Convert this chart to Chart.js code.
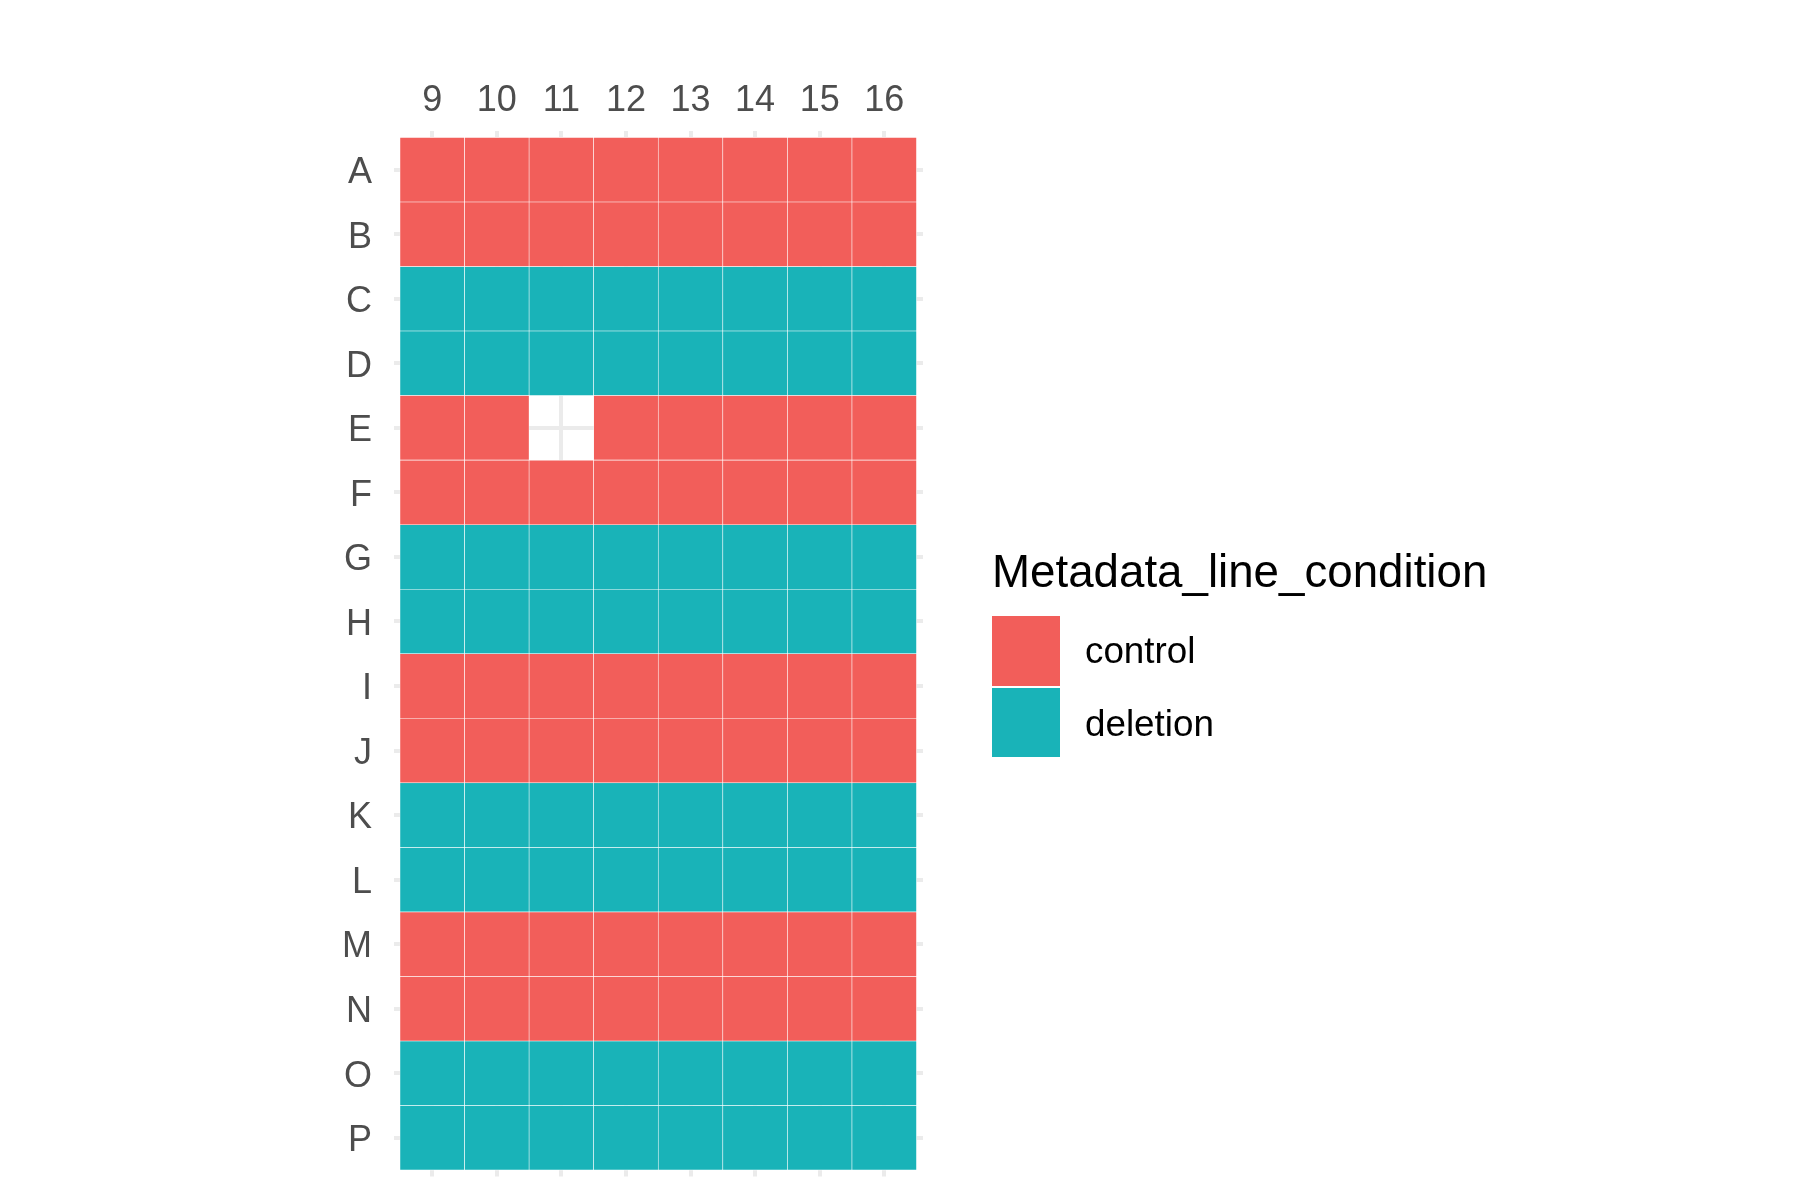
<!DOCTYPE html>
<html>
<head>
<meta charset="utf-8">
<script src="https://cdn.jsdelivr.net/npm/chart.js@4/dist/chart.umd.min.js"></script>
<style>
  html, body { margin: 0; padding: 0; background: #ffffff; }
  #wrap { position: relative; width: 1800px; height: 1200px; overflow: hidden; }
  #c { position: absolute; left: 0; top: 0; }
  .lg { position: absolute; font-family: "Liberation Sans", Arial, sans-serif; color: #000; white-space: nowrap; }
  .key { position: absolute; }
</style>
</head>
<body>
<div id="wrap">
  <canvas id="c" width="1800" height="1200"></canvas>
  <div class="lg" id="legTitle" style="left:992px; top:547px; font-size:45.7px; line-height:50px;">Metadata_line_condition</div>
  <div class="key" id="key0" style="left:992px; top:616px; width:68px; height:70px;"></div>
  <div class="key" id="key1" style="left:992px; top:688px; width:68px; height:69px;"></div>
  <div class="lg" id="lab0" style="left:1085px; top:631px; font-size:36.8px; line-height:40px;"></div>
  <div class="lg" id="lab1" style="left:1085px; top:704px; font-size:36.8px; line-height:40px;"></div>
</div>
<script>
// ---- data ----
const rowLabels = ['A','B','C','D','E','F','G','H','I','J','K','L','M','N','O','P'];
const columnLabels = [9, 10, 11, 12, 13, 14, 15, 16];
const conditions = ['control', 'deletion'];
const conditionColors = ['#F25E5A', '#19B3B8'];
// plate layout: 'c' = control, 'd' = deletion, null = empty well
const plateGrid = [
  ['c','c','c','c','c','c','c','c'], // A
  ['c','c','c','c','c','c','c','c'], // B
  ['d','d','d','d','d','d','d','d'], // C
  ['d','d','d','d','d','d','d','d'], // D
  ['c','c',null,'c','c','c','c','c'], // E
  ['c','c','c','c','c','c','c','c'], // F
  ['d','d','d','d','d','d','d','d'], // G
  ['d','d','d','d','d','d','d','d'], // H
  ['c','c','c','c','c','c','c','c'], // I
  ['c','c','c','c','c','c','c','c'], // J
  ['d','d','d','d','d','d','d','d'], // K
  ['d','d','d','d','d','d','d','d'], // L
  ['c','c','c','c','c','c','c','c'], // M
  ['c','c','c','c','c','c','c','c'], // N
  ['d','d','d','d','d','d','d','d'], // O
  ['d','d','d','d','d','d','d','d']  // P
];
const codeToCondition = { c: 'control', d: 'deletion' };

// ---- build datasets ----
const datasets = conditions.map((cond, ci) => {
  const pts = [];
  plateGrid.forEach((row, ri) => {
    row.forEach((code, ki) => {
      if (code && codeToCondition[code] === cond) {
        pts.push({ x: columnLabels[ki], y: [ri - 0.5, ri + 0.5] });
      }
    });
  });
  return {
    label: cond,
    data: pts,
    backgroundColor: conditionColors[ci],
    borderColor: '#ffffff',
    borderWidth: 0.6,
    borderSkipped: false,
    barPercentage: 1.0,
    categoryPercentage: 1.0,
    grouped: false
  };
});

// ---- legend (HTML) ----
conditions.forEach((cond, i) => {
  document.getElementById('key' + i).style.background = conditionColors[i];
  document.getElementById('lab' + i).textContent = cond;
});

Chart.defaults.font.family = '"Liberation Sans", Arial, sans-serif';

new Chart(document.getElementById('c'), {
  type: 'bar',
  data: { datasets },
  options: {
    responsive: false,
    animation: false,
    devicePixelRatio: 1,
    layout: { padding: { left: 293.5, right: 877, top: 71, bottom: 23.5 } },
    plugins: { legend: { display: false }, tooltip: { enabled: false } },
    scales: {
      x: {
        type: 'linear',
        position: 'top',
        offset: false,
        min: 8.4,
        max: 16.6,
        afterFit: (a) => { a.height = 60; a.paddingLeft = 0; a.paddingRight = 0; },
        grid: { color: '#EBEBEB', lineWidth: 4, drawTicks: false, offset: false },
        border: { display: false },
        ticks: {
          stepSize: 1,
          includeBounds: false,
          autoSkip: false,
          maxRotation: 0,
          padding: 8,
          color: '#4D4D4D',
          font: { size: 36 },
          callback: (v) => columnLabels.includes(v) ? String(v) : ''
        }
      },
      y: {
        type: 'linear',
        position: 'left',
        reverse: true,
        min: -0.6,
        max: 15.6,
        afterFit: (a) => { a.width = 100; a.paddingTop = 0; a.paddingBottom = 0; },
        grid: { color: '#EBEBEB', lineWidth: 4, drawTicks: false },
        border: { display: false },
        ticks: {
          stepSize: 1,
          includeBounds: false,
          autoSkip: false,
          padding: 21.5,
          labelOffset: 3.4,
          color: '#4D4D4D',
          font: { size: 36 },
          callback: (v) => (Number.isInteger(v) && rowLabels[v]) ? rowLabels[v] : ''
        }
      }
    }
  }
});
</script>
</body>
</html>
